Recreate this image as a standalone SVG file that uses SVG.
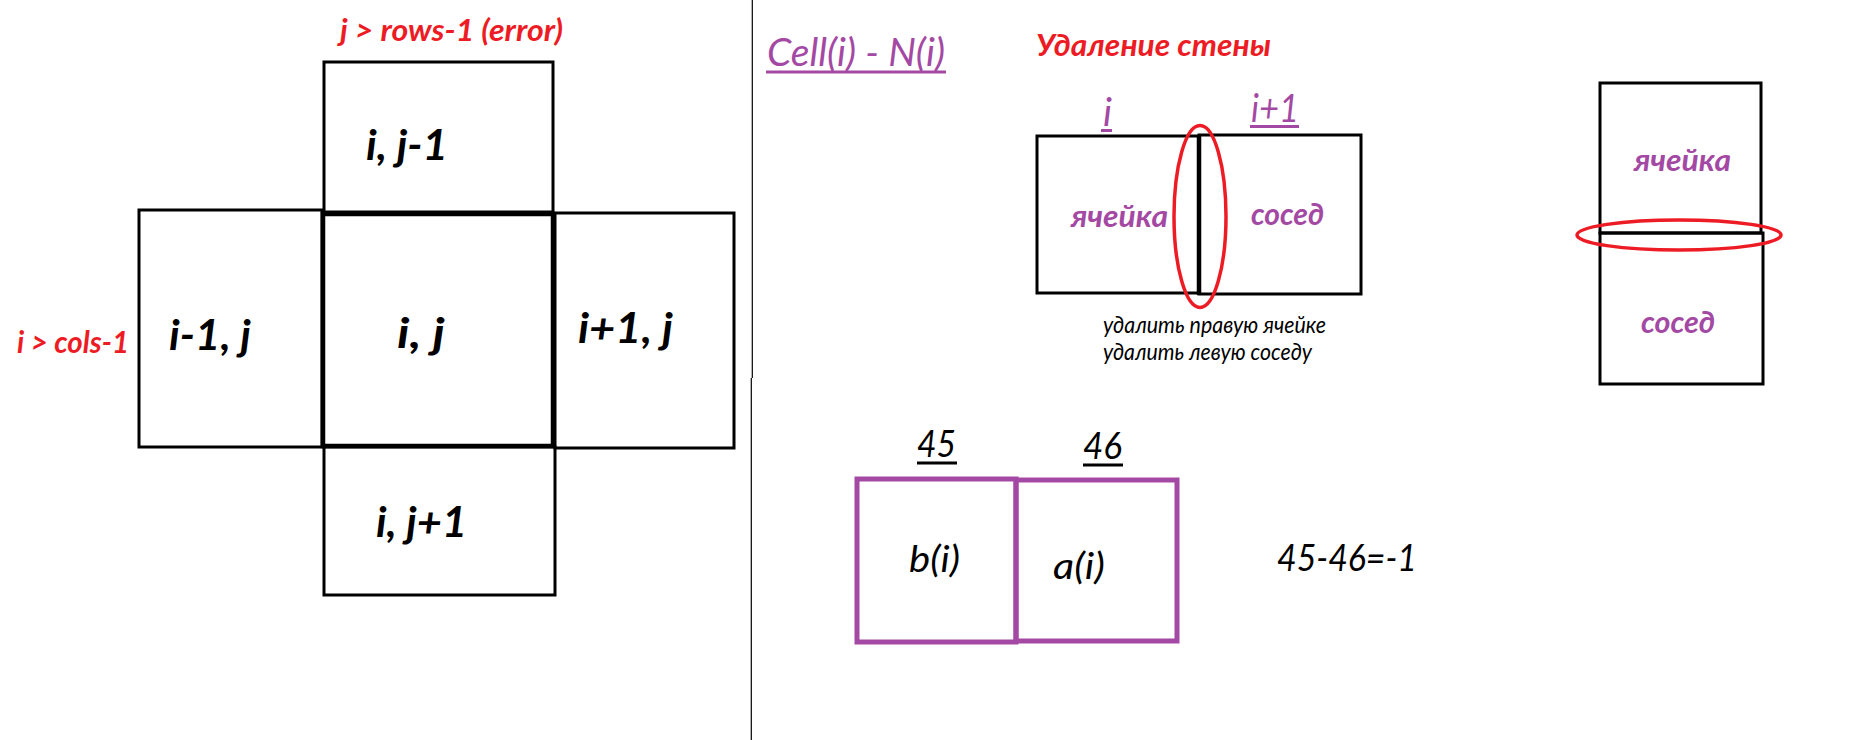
<svg xmlns="http://www.w3.org/2000/svg" width="1849" height="740" viewBox="0 0 1849 740">
<style>
.bx{fill:none;stroke:#000;stroke-width:3}
.bxc{fill:none;stroke:#000;stroke-width:4.5}
.pb{fill:none;stroke:#A349A4;stroke-width:5}
.ov{fill:none;stroke:#ED1C24;stroke-width:3.5}
text{font-family:Lato,"Open Sans","Noto Sans",sans-serif;font-style:italic}
.lb{font-weight:bold;font-size:42px;fill:#000}
.rd{font-weight:bold;font-size:30px;fill:#ED1C24}
.pu{font-size:39px;fill:#A349A4}
.pw{font-weight:bold;font-size:30px;fill:#A349A4}
.sm{font-size:23px;fill:#000}
.num{font-size:37px;fill:#000}
.ul{stroke-width:3}
</style>
<rect width="1849" height="740" fill="#fff"/>
<g id="divider">
<line x1="752.3" y1="0" x2="752.3" y2="378" stroke="#000" stroke-width="1.2"/>
<line x1="751.3" y1="378" x2="751.3" y2="740" stroke="#000" stroke-width="1.2"/>
</g>
<g id="label-rows"><text class="rd" x="340" y="41" textLength="223" lengthAdjust="spacingAndGlyphs">j &gt; rows-1 (error)</text></g>
<g id="label-cols"><text class="rd" x="17" y="353" textLength="112" lengthAdjust="spacingAndGlyphs">i &gt; cols-1</text></g>
<g id="cell-top"><rect class="bx" x="324" y="62" width="229" height="150"/><text class="lb" x="366" y="160" textLength="82" lengthAdjust="spacingAndGlyphs">i, j-1</text></g>
<g id="cell-left"><rect class="bx" x="139" y="210" width="183" height="237"/><text class="lb" x="169" y="350" textLength="82" lengthAdjust="spacingAndGlyphs">i-1, j</text></g>
<g id="cell-right"><rect class="bx" x="555" y="213" width="179" height="235"/><text class="lb" x="578" y="343" textLength="95" lengthAdjust="spacingAndGlyphs">i+1, j</text></g>
<g id="cell-bottom"><rect class="bx" x="324" y="447" width="231" height="148"/><text class="lb" x="376" y="537" textLength="91" lengthAdjust="spacingAndGlyphs">i, j+1</text></g>
<g id="cell-center"><rect class="bxc" x="323" y="214" width="230" height="232"/><text class="lb" x="397" y="348" textLength="48" lengthAdjust="spacingAndGlyphs">i, j</text></g>
<g id="title-cell"><text class="pu" x="767" y="66" textLength="178" lengthAdjust="spacingAndGlyphs">Cell(i) - N(i)</text><line class="ul" x1="766" y1="72" x2="946" y2="72" stroke="#A349A4"/></g>
<g id="title-wall"><text class="rd" x="1036" y="56" font-size="31" textLength="235" lengthAdjust="spacingAndGlyphs">Удаление стены</text></g>
<g id="idx-i"><text class="pu" x="1103" y="126" textLength="9" lengthAdjust="spacingAndGlyphs">i</text><line class="ul" x1="1101" y1="130.5" x2="1112" y2="130.5" stroke="#A349A4"/></g>
<g id="idx-i1"><text class="pu" x="1251" y="122" textLength="48" lengthAdjust="spacingAndGlyphs">i+1</text><line class="ul" x1="1250" y1="126.5" x2="1299" y2="126.5" stroke="#A349A4"/></g>
<g id="pair-cell"><rect class="bx" x="1037" y="136" width="162" height="157"/><text class="pw" x="1071" y="227" textLength="97" lengthAdjust="spacingAndGlyphs">ячейка</text></g>
<g id="pair-neighbor"><rect class="bx" x="1199" y="135" width="162" height="159"/><text class="pw" x="1251" y="225" textLength="73" lengthAdjust="spacingAndGlyphs">сосед</text></g>
<g id="pair-wall"><line x1="1199" y1="135" x2="1199" y2="295" stroke="#000" stroke-width="4.5"/><ellipse class="ov" cx="1200" cy="216.5" rx="26" ry="91"/></g>
<g id="note"><text class="sm" x="1103" y="333" textLength="223" lengthAdjust="spacingAndGlyphs">удалить правую ячейке</text><text class="sm" x="1103" y="360" textLength="209" lengthAdjust="spacingAndGlyphs">удалить левую соседу</text></g>
<g id="tall-cell"><rect class="bx" x="1600" y="83" width="161" height="150"/><text class="pw" x="1634" y="171" textLength="97" lengthAdjust="spacingAndGlyphs">ячейка</text></g>
<g id="tall-neighbor"><rect class="bx" x="1600" y="233" width="163" height="151"/><text class="pw" x="1641" y="333" textLength="74" lengthAdjust="spacingAndGlyphs">сосед</text></g>
<g id="tall-wall"><ellipse class="ov" cx="1679" cy="235" rx="102" ry="15"/></g>
<g id="num-45"><text class="num" x="917" y="457" textLength="39" lengthAdjust="spacingAndGlyphs">45</text><line class="ul" x1="917" y1="463" x2="957" y2="463" stroke="#000"/></g>
<g id="num-46"><text class="num" x="1083" y="459" textLength="39" lengthAdjust="spacingAndGlyphs">46</text><line class="ul" x1="1083" y1="465" x2="1123" y2="465" stroke="#000"/></g>
<g id="box-b"><rect class="pb" x="857" y="479" width="159" height="163"/><text class="num" x="909" y="572" textLength="51" lengthAdjust="spacingAndGlyphs">b(i)</text></g>
<g id="box-a"><rect class="pb" x="1016" y="480" width="161" height="161"/><text class="num" x="1053" y="579" textLength="52" lengthAdjust="spacingAndGlyphs">a(i)</text></g>
<g id="formula"><text class="num" x="1277" y="571" textLength="140" lengthAdjust="spacingAndGlyphs">45-46=-1</text></g>
</svg>
